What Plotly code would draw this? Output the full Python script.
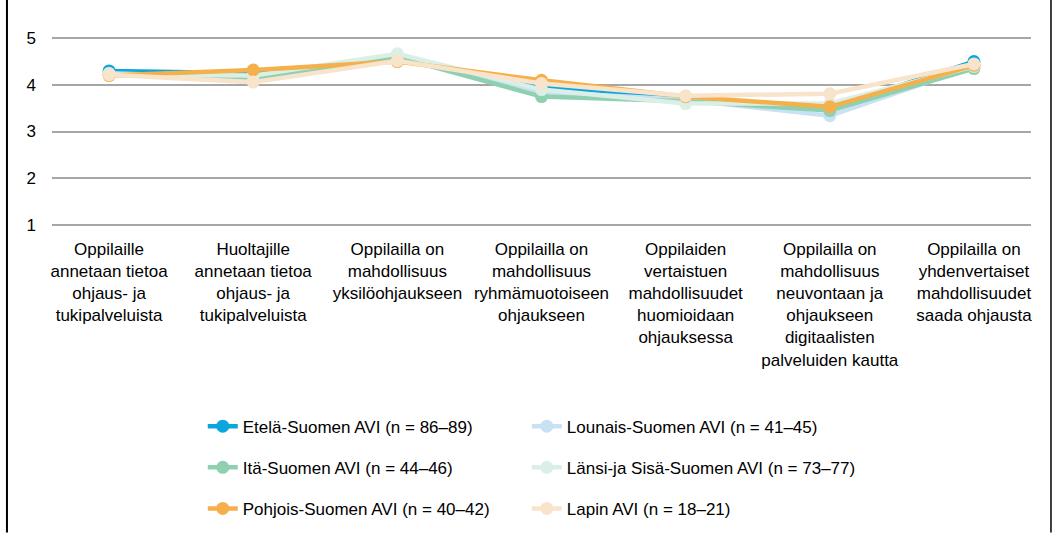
import plotly.graph_objects as go

categories = [
    "Oppilaille<br>annetaan tietoa<br>ohjaus- ja<br>tukipalveluista",
    "Huoltajille<br>annetaan tietoa<br>ohjaus- ja<br>tukipalveluista",
    "Oppilailla on<br>mahdollisuus<br>yksilöohjaukseen",
    "Oppilailla on<br>mahdollisuus<br>ryhmämuotoiseen<br>ohjaukseen",
    "Oppilaiden<br>vertaistuen<br>mahdollisuudet<br>huomioidaan<br>ohjauksessa",
    "Oppilailla on<br>mahdollisuus<br>neuvontaan ja<br>ohjaukseen<br>digitaalisten<br>palveluiden kautta",
    "Oppilailla on<br>yhdenvertaiset<br>mahdollisuudet<br>saada ohjausta",
]

etela = [4.30, 4.25, 4.55, 3.95, 3.70, 3.50, 4.50]
lounais = [4.25, 4.15, 4.60, 3.85, 3.68, 3.34, 4.40]
ita = [4.22, 4.13, 4.60, 3.75, 3.65, 3.45, 4.35]
lansi = [4.23, 4.20, 4.67, 3.90, 3.60, 3.60, 4.40]
pohjois = [4.20, 4.32, 4.50, 4.10, 3.75, 3.53, 4.42]
lapin = [4.22, 4.06, 4.52, 4.03, 3.77, 3.81, 4.45]

series_names = [
    "Etelä-Suomen AVI (n = 86–89)",
    "Lounais-Suomen AVI (n = 41–45)",
    "Itä-Suomen AVI (n = 44–46)",
    "Länsi-ja Sisä-Suomen AVI (n = 73–77)",
    "Pohjois-Suomen AVI (n = 40–42)",
    "Lapin AVI (n = 18–21)",
]
series_values = [etela, lounais, ita, lansi, pohjois, lapin]
series_colors = ["#0aa6dc", "#c8e1f3", "#8fd0b0", "#dcefe6", "#f5b04c", "#f8e3cb"]
series_legend = ["legend", "legend2", "legend", "legend2", "legend", "legend2"]

y_ticks = [1, 2, 3, 4, 5]

FONT = "Liberation Sans, Arial, sans-serif"
FS = 17

fig = go.Figure()
for i, (name, vals, col, lg) in enumerate(zip(series_names, series_values, series_colors, series_legend)):
    fig.add_trace(go.Scatter(
        x=categories, y=vals, name=name, mode="lines+markers",
        line=dict(color=col, width=4.5),
        marker=dict(color=col, size=13),
        legend=lg, legendgroup=f"g{i}",
    ))

fig.update_layout(
    width=1059, height=541,
    margin=dict(l=52, r=28, t=36, b=314),
    paper_bgcolor="white", plot_bgcolor="white",
    font=dict(family=FONT, size=FS, color="#000000"),
    showlegend=True,
    legend=dict(x=0.154, y=-0.951, xanchor="left", yanchor="top",
                orientation="v", tracegroupgap=16,
                font=dict(family=FONT, size=FS, color="#000000"),
                bgcolor="rgba(0,0,0,0)"),
    legend2=dict(x=0.485, y=-0.951, xanchor="left", yanchor="top",
                 orientation="v", tracegroupgap=16,
                 font=dict(family=FONT, size=FS, color="#000000"),
                 bgcolor="rgba(0,0,0,0)"),
    xaxis=dict(showgrid=False, showline=False, ticks="", tickangle=0,
               automargin=False, ticklabelstandoff=10,
               tickfont=dict(family=FONT, size=FS, color="#000000")),
    yaxis=dict(range=[0.95, 5.05], tickvals=y_ticks, showgrid=True,
               gridcolor="#a6a6a6", gridwidth=1.5, zeroline=False,
               showline=False, ticks="", ticklabelstandoff=15, automargin=False,
               tickfont=dict(family=FONT, size=FS, color="#000000")),
    shapes=[
        dict(type="line", xref="paper", yref="paper", x0=-0.046, x1=-0.046,
             y0=-1.6, y1=1.25, line=dict(color="#000000", width=2)),
        dict(type="line", xref="paper", yref="paper", x0=1.0204, x1=1.0204,
             y0=-1.6, y1=1.25, line=dict(color="#000000", width=1.5)),
    ],
)

fig.write_html("out.html", config={"displayModeBar": False},
               post_script="document.body.style.margin='0';")
